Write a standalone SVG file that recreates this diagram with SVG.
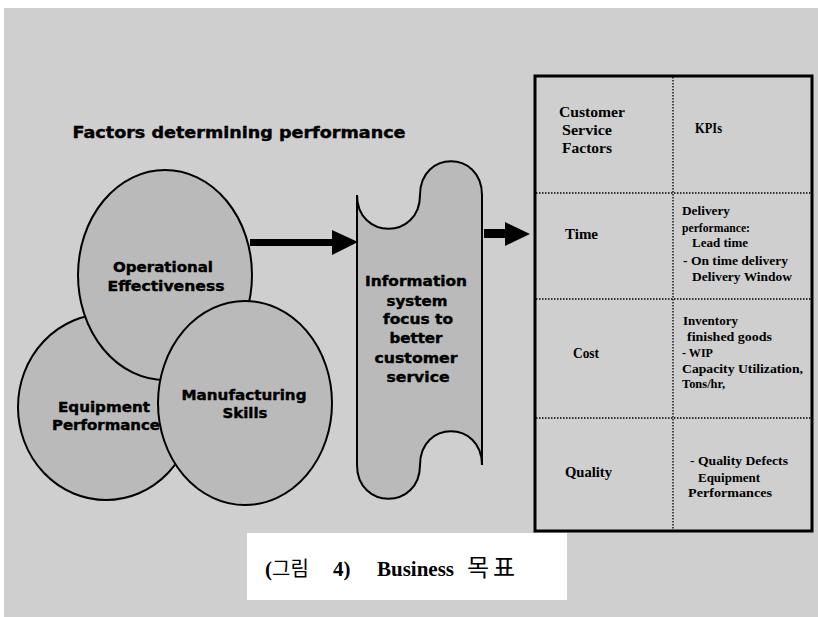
<svg xmlns="http://www.w3.org/2000/svg" width="818" height="617" viewBox="0 0 818 617">
<defs>
<style>
.bg{fill:#cfcfcf}
.shape{fill:#bababa;stroke:#000;stroke-width:2}
.heavy{font-family:"DejaVu Sans",Verdana,sans-serif;font-weight:bold;fill:#000;stroke:#000;stroke-width:0.4;text-anchor:middle}
.lbl{font-size:14px}
.ser{font-family:"Liberation Serif","Times New Roman",serif;font-weight:bold;fill:#000}
.h{font-size:15px}
.k{font-size:12px}
.div{stroke:#000;stroke-width:1.3;stroke-dasharray:1.5 1.5;fill:none}
.arrow{fill:#000}
</style>
</defs>
<rect x="0" y="0" width="818" height="617" fill="#ffffff"/>
<rect class="bg" x="4" y="8" width="814" height="609"/>

<g id="title">
<text class="heavy" x="239" y="138" font-size="15" textLength="333" lengthAdjust="spacingAndGlyphs">Factors determining performance</text>
</g>

<g id="equipment-performance">
<ellipse class="shape" cx="106" cy="407" rx="88" ry="93"/>
<text class="heavy lbl" x="104" y="412" textLength="92" lengthAdjust="spacingAndGlyphs">Equipment</text>
<text class="heavy lbl" x="106" y="430" textLength="108" lengthAdjust="spacingAndGlyphs">Performance</text>
</g>

<g id="operational-effectiveness">
<ellipse class="shape" cx="165" cy="275" rx="87" ry="105"/>
<text class="heavy lbl" x="163" y="272" textLength="100" lengthAdjust="spacingAndGlyphs">Operational</text>
<text class="heavy lbl" x="166" y="291" textLength="117" lengthAdjust="spacingAndGlyphs">Effectiveness</text>
</g>

<g id="manufacturing-skills">
<ellipse class="shape" cx="245" cy="403" rx="87" ry="102"/>
<text class="heavy lbl" x="244" y="400" textLength="125" lengthAdjust="spacingAndGlyphs">Manufacturing</text>
<text class="heavy lbl" x="245" y="418" textLength="45" lengthAdjust="spacingAndGlyphs">Skills</text>
</g>

<g id="information-system">
<path class="shape" d="M357,195 C357,240 420,240 420,195 C420,150 482,150 482,195 L482,465 C482,420 420,420 420,465 C420,510 357,510 357,465 Z"/>
<text class="heavy lbl" x="416" y="286" textLength="102" lengthAdjust="spacingAndGlyphs">Information</text>
<text class="heavy lbl" x="417" y="306" textLength="61" lengthAdjust="spacingAndGlyphs">system</text>
<text class="heavy lbl" x="418" y="324" textLength="70" lengthAdjust="spacingAndGlyphs">focus to</text>
<text class="heavy lbl" x="416" y="343" textLength="53" lengthAdjust="spacingAndGlyphs">better</text>
<text class="heavy lbl" x="416" y="363" textLength="83" lengthAdjust="spacingAndGlyphs">customer</text>
<text class="heavy lbl" x="418" y="382" textLength="63" lengthAdjust="spacingAndGlyphs">service</text>
</g>

<g id="connectors">
<path class="arrow" d="M250,239 L332,239 L332,230 L358,242 L332,255 L332,246 L250,246 Z"/>
<path class="arrow" d="M484,229 L505,229 L505,222 L530,234 L505,246 L505,238 L484,238 Z"/>
</g>

<g id="kpi-table">
<rect x="535" y="76" width="277" height="455" fill="none" stroke="#000" stroke-width="3"/>
<line class="div" x1="673" y1="77" x2="673" y2="530"/>
<line class="div" x1="536" y1="193" x2="811" y2="193"/>
<line class="div" x1="536" y1="299" x2="811" y2="299"/>
<line class="div" x1="536" y1="418" x2="811" y2="418"/>
<text class="ser h" x="559" y="117" textLength="66" lengthAdjust="spacingAndGlyphs">Customer</text>
<text class="ser h" x="562" y="135" textLength="50" lengthAdjust="spacingAndGlyphs">Service</text>
<text class="ser h" x="562" y="153" textLength="50" lengthAdjust="spacingAndGlyphs">Factors</text>
<text class="ser h" x="695" y="133" textLength="27" lengthAdjust="spacingAndGlyphs">KPIs</text>
<text class="ser h" x="565" y="239" textLength="33" lengthAdjust="spacingAndGlyphs">Time</text>
<text class="ser k" x="682" y="215" textLength="48" lengthAdjust="spacingAndGlyphs">Delivery</text>
<text class="ser k" x="682" y="232" textLength="68" lengthAdjust="spacingAndGlyphs">performance:</text>
<text class="ser k" x="692" y="247" textLength="56" lengthAdjust="spacingAndGlyphs">Lead time</text>
<text class="ser k" x="683" y="265" textLength="105" lengthAdjust="spacingAndGlyphs">- On time delivery</text>
<text class="ser k" x="692" y="281" textLength="100" lengthAdjust="spacingAndGlyphs">Delivery Window</text>
<text class="ser h" x="573" y="358" textLength="26" lengthAdjust="spacingAndGlyphs">Cost</text>
<text class="ser k" x="683" y="325" textLength="55" lengthAdjust="spacingAndGlyphs">Inventory</text>
<text class="ser k" x="687" y="341" textLength="85" lengthAdjust="spacingAndGlyphs">finished goods</text>
<text class="ser k" x="682" y="357" textLength="31" lengthAdjust="spacingAndGlyphs">- WIP</text>
<text class="ser k" x="682" y="373" textLength="121" lengthAdjust="spacingAndGlyphs">Capacity Utilization,</text>
<text class="ser k" x="682" y="388" textLength="43" lengthAdjust="spacingAndGlyphs">Tons/hr,</text>
<text class="ser h" x="565" y="477" textLength="47" lengthAdjust="spacingAndGlyphs">Quality</text>
<text class="ser k" x="690" y="465" textLength="98" lengthAdjust="spacingAndGlyphs">- Quality Defects</text>
<text class="ser k" x="698" y="482" textLength="62" lengthAdjust="spacingAndGlyphs">Equipment</text>
<text class="ser k" x="688" y="497" textLength="84" lengthAdjust="spacingAndGlyphs">Performances</text>
</g>

<g id="caption">
<rect x="247" y="533" width="320" height="67" fill="#ffffff"/>
<text x="265" y="576" font-family="'Liberation Serif','Noto Sans CJK KR',serif" font-weight="bold" font-size="21" fill="#000">(<tspan font-family="'Noto Sans CJK KR',sans-serif" font-weight="normal" font-size="20">그림</tspan><tspan x="333">4)</tspan><tspan x="377">Business</tspan><tspan x="467" font-family="'Noto Sans CJK KR',sans-serif" font-weight="normal" font-size="24" letter-spacing="4">목표</tspan></text>
</g>
</svg>
